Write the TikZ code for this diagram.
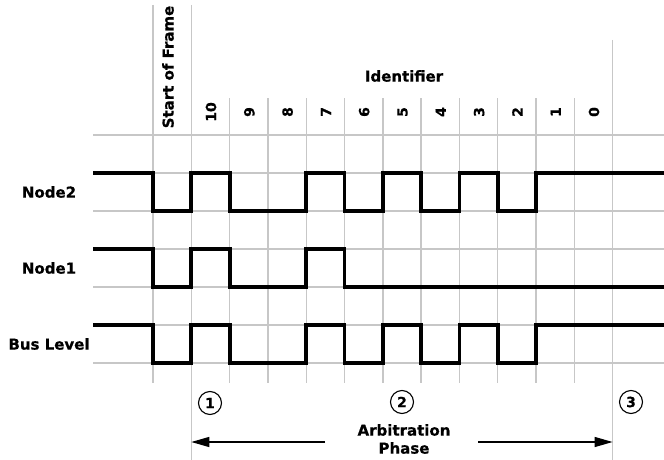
\documentclass[tikz,border=0pt]{standalone}
\usepackage{fontspec}
\setmainfont{DejaVu Sans}[BoldFeatures={FakeBold=0.6}]
\usetikzlibrary{arrows.meta, positioning}
\tikzset{
	grid_line/.style={draw=black!22, line width=1.4pt},
	signal/.style={draw=black, line width=3.8pt, line join=miter},
	sig_label/.style={font=\bfseries\fontsize{15}{18}\selectfont, inner sep=0pt},
	bit_num/.style={font=\bfseries\fontsize{14}{16}\selectfont, rotate=90, inner sep=0pt},
	step_mark/.style={circle, draw=black, line width=1.1pt, minimum size=23pt, inner sep=0pt, font=\bfseries\fontsize{14}{16}\selectfont},
	phase_arrow/.style={-{Triangle[length=18pt, width=10pt]}, draw=black, line width=1.3pt}
}

\begin{document}
\begin{tikzpicture}[x=1pt, y=-1pt]
	\useasboundingbox (0,0) rectangle (664,460);
	% grid
	\foreach \j in {0,...,6}
		\draw[grid_line] (93,{135+38*\j}) -- (664,{135+38*\j});
	\foreach \i in {2,...,11}
		\draw[grid_line] ({153+38.3*\i},98) -- ({153+38.3*\i},383);
	\draw[grid_line] (153,5) -- (153,383);
	\draw[grid_line] (191.3,5) -- (191.3,460);
	\draw[grid_line] (612.6,40) -- (612.6,460);
	% header texts
	\node[sig_label, rotate=90] (sof_lbl) at (168,67) {Start of Frame};
	\node[sig_label] (id_lbl) at (404,76) {Identifier};
	\foreach \n [count=\k from 0] in {10,9,8,7,6,5,4,3,2,1,0}
		\node[bit_num] (bit\n) at ({211+38.3*\k},112) {\n};
	% signal names
	\node[sig_label] (node2_lbl) at (49,192) {Node2};
	\node[sig_label] (node1_lbl) at (49,268) {Node1};
	\node[sig_label] (bus_lbl) at (49,344) {Bus Level};
	% waveforms (Node2 and bus level are the same)
	\foreach \hy in {173,325}
		\draw[signal] (93,\hy) -- (153,\hy) -- (153,{\hy+38}) -- (191.3,{\hy+38})
			-- (191.3,\hy) -- (229.6,\hy) -- (229.6,{\hy+38}) -- (306.2,{\hy+38})
			-- (306.2,\hy) -- (344.5,\hy) -- (344.5,{\hy+38}) -- (382.8,{\hy+38})
			-- (382.8,\hy) -- (421.1,\hy) -- (421.1,{\hy+38}) -- (459.4,{\hy+38})
			-- (459.4,\hy) -- (497.7,\hy) -- (497.7,{\hy+38}) -- (536,{\hy+38})
			-- (536,\hy) -- (664,\hy);
	\draw[signal] (93,249) -- (153,249) -- (153,287) -- (191.3,287)
		-- (191.3,249) -- (229.6,249) -- (229.6,287) -- (306.2,287)
		-- (306.2,249) -- (344.5,249) -- (344.5,287) -- (664,287);
	% phases
	\node[step_mark] (mark1) at (210,403) {1};
	\node[step_mark] (mark2) at (402,402) {2};
	\node[step_mark] (mark3) at (631,402) {3};
	\node[sig_label, align=center] (phase_lbl) at (404,439) {Arbitration\\Phase};
	\coordinate (arr_l_start) at (325,442);
	\coordinate (arr_l_end) at (191.3,442);
	\coordinate (arr_r_start) at (478,442);
	\coordinate (arr_r_end) at (612.6,442);
	\draw[phase_arrow] (arr_l_start) -- (arr_l_end);
	\draw[phase_arrow] (arr_r_start) -- (arr_r_end);
\end{tikzpicture}
\end{document}
